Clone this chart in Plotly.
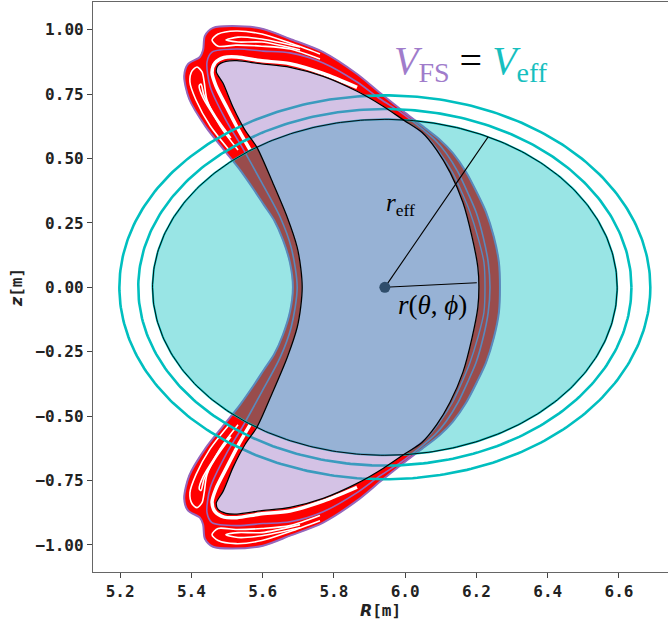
import numpy as np
import plotly.graph_objects as go

# ---------------- data ----------------
x_ticks = [5.2, 5.4, 5.6, 5.8, 6.0, 6.2, 6.4, 6.6]
x_tick_text = ["5.2", "5.4", "5.6", "5.8", "6.0", "6.2", "6.4", "6.6"]
y_ticks = [-1.0, -0.75, -0.5, -0.25, 0.0, 0.25, 0.5, 0.75, 1.0]
y_tick_text = ["\u22121.00", "\u22120.75", "\u22120.50", "\u22120.25", "0.00",
               "0.25", "0.50", "0.75", "1.00"]

axis_R = 5.943          # magnetic axis (dot)
axis_z = 0.0
r_eff = 0.652           # radius of the equal-volume circle
ring_radii = [0.692, 0.745]
r_eff_angle_deg = 63.6
r_tp_end_R = 6.201      # end of the r(theta, phi) segment
r_tp_end_z = 0.018

# last closed flux surface (crescent)
crescent_R = [6.207, 6.204, 6.188, 6.162, 6.126, 6.089, 6.047, 5.997, 5.938, 5.865,
              5.770, 5.677, 5.593, 5.528, 5.497, 5.475, 5.470, 5.489, 5.517, 5.551,
              5.584, 5.629, 5.669, 5.697, 5.707, 5.711, 5.707, 5.697, 5.669, 5.629,
              5.584, 5.551, 5.517, 5.489, 5.470, 5.475, 5.497, 5.528, 5.593, 5.677,
              5.770, 5.865, 5.938, 5.997, 6.047, 6.089, 6.126, 6.162, 6.188, 6.204, 6.207]
crescent_z = [0.000, 0.078, 0.194, 0.330, 0.446, 0.532, 0.602, 0.648, 0.703, 0.761,
              0.819, 0.854, 0.868, 0.880, 0.877, 0.862, 0.836, 0.792, 0.699, 0.609,
              0.543, 0.404, 0.272, 0.155, 0.075, 0.000, -0.075, -0.155, -0.272, -0.404,
              -0.543, -0.609, -0.699, -0.792, -0.836, -0.862, -0.877, -0.880, -0.868, -0.854,
              -0.819, -0.761, -0.703, -0.648, -0.602, -0.532, -0.446, -0.330, -0.194, -0.078, 0.000]

# outer boundary of the island region (with lobes)
outer_R = [6.266, 6.263, 6.249, 6.227, 6.202, 6.171, 6.134, 6.098, 6.056, 6.000,
           5.930, 5.865, 5.770, 5.677, 5.601, 5.514, 5.461, 5.438, 5.433, 5.424,
           5.391, 5.380, 5.394, 5.441, 5.492, 5.537, 5.576, 5.604, 5.632, 5.657,
           5.677, 5.685, 5.677, 5.657, 5.632, 5.604, 5.576, 5.537, 5.492, 5.441,
           5.394, 5.380, 5.391, 5.424, 5.433, 5.438, 5.461, 5.514, 5.601, 5.677,
           5.770, 5.865, 5.930, 6.000, 6.056, 6.098, 6.134, 6.171, 6.202, 6.227,
           6.249, 6.263, 6.266]
outer_z = [0.000, 0.098, 0.195, 0.292, 0.366, 0.448, 0.521, 0.572, 0.618, 0.677,
           0.754, 0.828, 0.913, 0.964, 1.003, 1.014, 1.007, 0.976, 0.921, 0.894,
           0.867, 0.820, 0.731, 0.622, 0.533, 0.455, 0.378, 0.319, 0.261, 0.184,
           0.094, 0.000, -0.094, -0.184, -0.261, -0.319, -0.378, -0.455, -0.533, -0.622,
           -0.731, -0.820, -0.867, -0.894, -0.921, -0.976, -1.007, -1.014, -1.003, -0.964,
           -0.913, -0.828, -0.754, -0.677, -0.618, -0.572, -0.521, -0.448, -0.366, -0.292,
           -0.195, -0.098, 0.000]

# middle flux surface between the chaotic band and the island lobes
middle_R = [6.238, 6.233, 6.219, 6.199, 6.176, 6.148, 6.115, 6.084, 6.045, 5.986,
            5.930, 5.865, 5.770, 5.677, 5.601, 5.528, 5.458, 5.444, 5.453, 5.497,
            5.542, 5.598, 5.649, 5.680, 5.697, 5.680, 5.649, 5.598, 5.542, 5.497,
            5.453, 5.444, 5.458, 5.528, 5.601, 5.677, 5.770, 5.865, 5.930, 5.986,
            6.045, 6.084, 6.115, 6.148, 6.176, 6.199, 6.219, 6.233, 6.238]
middle_z = [0.000, 0.098, 0.195, 0.292, 0.366, 0.448, 0.521, 0.572, 0.618, 0.681,
            0.731, 0.797, 0.871, 0.910, 0.917, 0.925, 0.913, 0.875, 0.778, 0.649,
            0.545, 0.405, 0.273, 0.156, 0.000, -0.156, -0.273, -0.405, -0.545, -0.649,
            -0.778, -0.875, -0.913, -0.925, -0.917, -0.910, -0.871, -0.797, -0.731, -0.681,
            -0.618, -0.572, -0.521, -0.448, -0.366, -0.292, -0.195, -0.098, 0.000]

# extra surface inside the right-hand band
inner_band_R = [6.019, 6.064, 6.098, 6.132, 6.160, 6.182, 6.204, 6.221, 6.224,
                6.221, 6.204, 6.182, 6.160, 6.132, 6.098, 6.064, 6.019]
inner_band_z = [0.630, 0.580, 0.521, 0.448, 0.366, 0.292, 0.195, 0.098, 0.000,
                -0.098, -0.195, -0.292, -0.366, -0.448, -0.521, -0.580, -0.630]

# empty gap right outside the crescent near the tips
gap_up_R = [5.865, 5.770, 5.677, 5.593, 5.528, 5.492, 5.467, 5.458, 5.469, 5.500, 5.534, 5.565]
gap_up_z = [0.776, 0.830, 0.868, 0.880, 0.894, 0.892, 0.872, 0.834, 0.782, 0.697, 0.607, 0.533]
gap_lo_R = [5.865, 5.770, 5.677, 5.593, 5.528, 5.492, 5.467, 5.458, 5.469, 5.500, 5.534, 5.565]
gap_lo_z = [-0.776, -0.830, -0.868, -0.880, -0.894, -0.892, -0.872, -0.834, -0.782, -0.697, -0.607, -0.533]

# empty stripes between the island loops (upper lobes, then lower lobes)
stripes = [
    ([5.761, 5.677, 5.598, 5.525, 5.475, 5.458, 5.475, 5.525, 5.598, 5.677, 5.761],
     [0.906, 0.948, 0.983, 0.995, 0.983, 0.960, 0.936, 0.940, 0.936, 0.925, 0.886]),
    ([5.705, 5.598, 5.531, 5.497, 5.531, 5.598, 5.705],
     [0.933, 0.964, 0.971, 0.960, 0.952, 0.952, 0.921]),
    ([5.506, 5.453, 5.413, 5.396, 5.402, 5.416, 5.430, 5.436, 5.444, 5.481, 5.531],
     [0.533, 0.626, 0.727, 0.797, 0.840, 0.855, 0.836, 0.797, 0.727, 0.626, 0.533]),
    ([5.506, 5.467, 5.433, 5.422, 5.427, 5.436, 5.469, 5.511],
     [0.580, 0.658, 0.735, 0.782, 0.789, 0.743, 0.661, 0.580]),
    ([5.761, 5.677, 5.598, 5.525, 5.475, 5.458, 5.475, 5.525, 5.598, 5.677, 5.761],
     [-0.906, -0.948, -0.983, -0.995, -0.983, -0.960, -0.936, -0.940, -0.936, -0.925, -0.886]),
    ([5.705, 5.598, 5.531, 5.497, 5.531, 5.598, 5.705],
     [-0.933, -0.964, -0.971, -0.960, -0.952, -0.952, -0.921]),
    ([5.506, 5.453, 5.413, 5.396, 5.402, 5.416, 5.430, 5.436, 5.444, 5.481, 5.531],
     [-0.533, -0.626, -0.727, -0.797, -0.840, -0.855, -0.836, -0.797, -0.727, -0.626, -0.533]),
    ([5.506, 5.467, 5.433, 5.422, 5.427, 5.436, 5.469, 5.511],
     [-0.580, -0.658, -0.735, -0.782, -0.789, -0.743, -0.661, -0.580]),
]

# ---------------- colours ----------------
RED = "#ff0000"
PURPLE = "#9467bd"
CYAN = "#00bfbf"
CYAN_FILL = "rgba(0,191,191,0.4)"
PURPLE_FILL = "rgba(148,103,189,0.4)"

fig = go.Figure()


def curve(R, z, color="black", width=1.0, fill=None, fillcolor=None, spline=True):
    fig.add_trace(go.Scatter(
        x=R, y=z, mode="lines",
        line=dict(color=color, width=width, shape="spline" if spline else "linear",
                  smoothing=0.8),
        fill=fill, fillcolor=fillcolor, hoverinfo="skip", showlegend=False))


def circle(radius, n=361):
    t = np.linspace(0.0, 2.0 * np.pi, n)
    return axis_R + radius * np.cos(t), axis_z + radius * np.sin(t)


# island / chaotic region (red), then blank interior
curve(outer_R, outer_z, color=RED, width=0.5, fill="toself", fillcolor=RED)
curve(crescent_R, crescent_z, color="white", width=0.5, fill="toself", fillcolor="white")
curve(gap_up_R, gap_up_z, color="white", width=3.5)
curve(gap_lo_R, gap_lo_z, color="white", width=3.5)
for sR, sz in stripes:
    curve(sR, sz, color="white", width=1.6)

# flux-surface lines
curve(inner_band_R, inner_band_z, color=PURPLE, width=1.4)
curve(middle_R, middle_z, color=PURPLE, width=1.6)
curve(outer_R, outer_z, color=PURPLE, width=2.0)

# outer cyan rings
for rr in ring_radii:
    cR, cz = circle(rr)
    curve(list(cR), list(cz), color=CYAN, width=2.6, spline=False)

# equal-volume circle
cR, cz = circle(r_eff)
curve(list(cR), list(cz), color=CYAN, width=2.0, fill="toself", fillcolor=CYAN_FILL, spline=False)

# crescent fill
curve(crescent_R, crescent_z, color="rgba(0,0,0,0)", width=0.1, fill="toself", fillcolor=PURPLE_FILL)

# black outlines
curve(list(cR), list(cz), color="black", width=0.9, spline=False)
curve(crescent_R, crescent_z, color="black", width=1.3)

# radius segments and axis point
ang = np.deg2rad(r_eff_angle_deg)
curve([axis_R, axis_R + r_eff * np.cos(ang)], [axis_z, axis_z + r_eff * np.sin(ang)],
      color="black", width=1.1, spline=False)
curve([axis_R, r_tp_end_R], [axis_z, r_tp_end_z], color="black", width=1.1, spline=False)
fig.add_trace(go.Scatter(x=[axis_R], y=[axis_z], mode="markers",
                         marker=dict(size=11, color="#2f4d6b"),
                         hoverinfo="skip", showlegend=False))

# ---------------- text ----------------
serif = "Liberation Serif"
fig.add_annotation(
    x=6.184, y=0.871, xref="x", yref="y", showarrow=False,
    xanchor="center", yanchor="middle",
    text=('<span style="color:#a07ccb"><i>V</i><sub>FS</sub></span>'
          '<span style="color:black"> = </span>'
          '<span style="color:#17bfbf"><i>V</i><sub>eff</sub></span>'),
    font=dict(family=serif, size=40))
fig.add_annotation(
    x=5.987, y=0.323, xref="x", yref="y", showarrow=False,
    xanchor="center", yanchor="middle",
    text="<i>r</i><sub>eff</sub>", font=dict(family=serif, size=25, color="black"))
fig.add_annotation(
    x=6.077, y=-0.068, xref="x", yref="y", showarrow=False,
    xanchor="center", yanchor="middle",
    text="<i>r</i>(<i>\u03b8</i>, <i>\u03d5</i>)", font=dict(family=serif, size=27, color="black"))

tick_font = dict(family="DejaVu Sans Mono", size=16, color="#222222", weight="bold")

fig.update_layout(
    width=668, height=621,
    margin=dict(l=93, r=0, t=2, b=49, autoexpand=False),
    paper_bgcolor="white", plot_bgcolor="white",
    showlegend=False,
    xaxis=dict(
        range=[5.124, 6.7376], tickmode="array", tickvals=x_ticks, ticktext=x_tick_text,
        tickfont=tick_font, ticks="outside", ticklen=5, tickwidth=1, tickcolor="#444",
        showline=True, linecolor="#666", linewidth=1.3, mirror=True,
        showgrid=False, zeroline=False, automargin=False,
        title=dict(text='<span style="font-family:DejaVu Sans"><b><i>R</i></b></span><b>[m]</b>',
                   font=dict(family="DejaVu Sans Mono", size=16, color="#222"), standoff=4),
    ),
    yaxis=dict(
        range=[-1.105, 1.1075], tickmode="array", tickvals=y_ticks, ticktext=y_tick_text,
        tickfont=tick_font, ticks="outside", ticklen=5, tickwidth=1, tickcolor="#444",
        showline=True, linecolor="#666", linewidth=1.3, mirror=False,
        showgrid=False, zeroline=False, automargin=False,
        title=dict(text='<span style="font-family:DejaVu Sans"><b><i>z</i></b></span><b>[m]</b>',
                   font=dict(family="DejaVu Sans Mono", size=16, color="#222"), standoff=8),
    ),
)

fig.write_html("out.html",
               config={"displayModeBar": False},
               post_script="document.body.style.margin='0';document.body.style.overflow='hidden';")
